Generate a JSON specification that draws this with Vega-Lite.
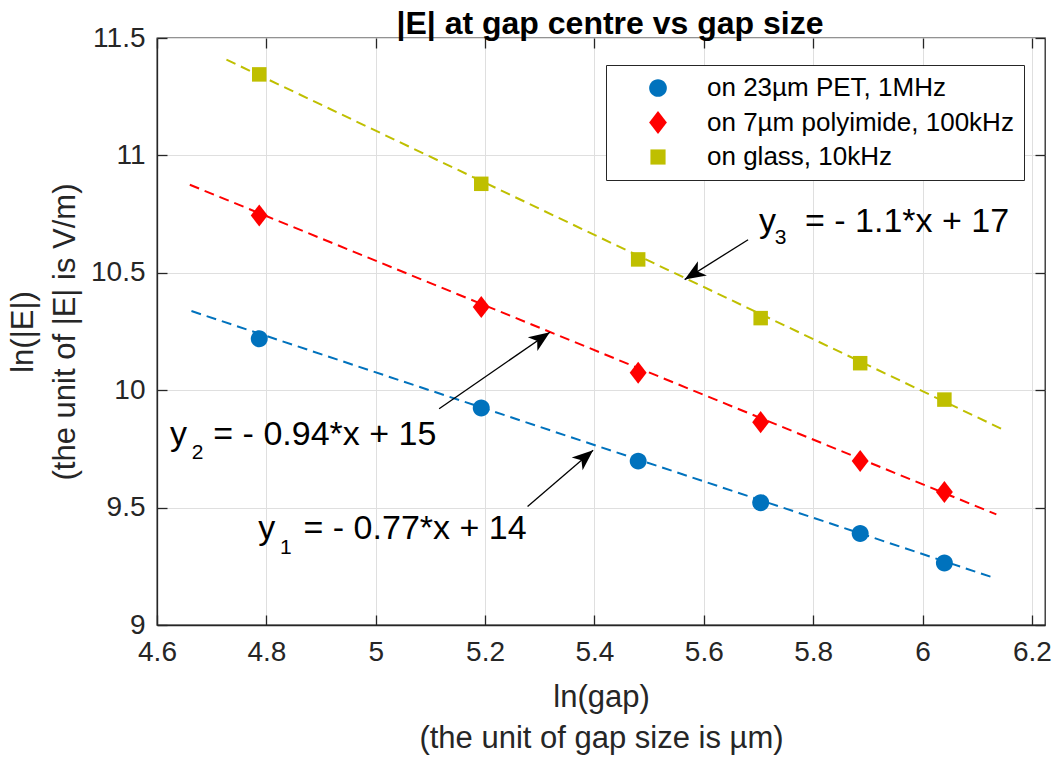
{
  "$schema": "https://vega.github.io/schema/vega-lite/v6.json",
  "width": 888,
  "height": 587,
  "autosize": {"type": "none"},
  "padding": {"left": 157, "top": 38, "right": 10, "bottom": 133},
  "background": "white",
  "config": {
    "font": "Liberation Sans",
    "view": {"stroke": "#262626", "strokeWidth": 1.3},
    "axis": {
      "domainColor": "#262626", "domainWidth": 1.3,
      "tickColor": "#262626", "tickWidth": 1.3, "tickSize": -10,
      "gridColor": "#dfdfdf", "gridWidth": 1,
      "labelColor": "#262626", "labelFont": "Liberation Sans", "labelFontSize": 28,
      "titleColor": "#262626", "titleFont": "Liberation Sans", "titleFontSize": 31, "titleFontWeight": "normal",
      "labelFlush": false, "labelOverlap": false
    },
    "legend": {
      "orient": "none", "legendX": 449, "legendY": 27,
      "labelFontSize": 26, "labelFont": "Liberation Sans", "labelColor": "#000000", "labelLimit": 0,
      "symbolSize": 230, "symbolOffset": 29, "labelOffset": 36, "padding": 10, "rowPadding": 8.5,
      "strokeColor": "#262626", "fillColor": "white", "symbolStrokeWidth": 0
    }
  },
  "title": {"text": "|E| at gap centre vs gap size", "fontSize": 32, "fontWeight": "bold", "font": "Liberation Sans", "color": "#000000", "anchor": "middle", "baseline": "alphabetic", "offset": 5, "dx": 9, "dy": 47},
  "datasets": {
    "pts": [
      {"series": "on 23µm PET, 1MHz", "lngap": 4.787, "lnE": 10.219},
      {"series": "on 23µm PET, 1MHz", "lngap": 5.193, "lnE": 9.924},
      {"series": "on 23µm PET, 1MHz", "lngap": 5.48, "lnE": 9.698},
      {"series": "on 23µm PET, 1MHz", "lngap": 5.704, "lnE": 9.521},
      {"series": "on 23µm PET, 1MHz", "lngap": 5.886, "lnE": 9.39},
      {"series": "on 23µm PET, 1MHz", "lngap": 6.04, "lnE": 9.264},
      {"series": "on 7µm polyimide, 100kHz", "lngap": 4.787, "lnE": 10.744},
      {"series": "on 7µm polyimide, 100kHz", "lngap": 5.193, "lnE": 10.354},
      {"series": "on 7µm polyimide, 100kHz", "lngap": 5.48, "lnE": 10.074},
      {"series": "on 7µm polyimide, 100kHz", "lngap": 5.704, "lnE": 9.864},
      {"series": "on 7µm polyimide, 100kHz", "lngap": 5.886, "lnE": 9.698},
      {"series": "on 7µm polyimide, 100kHz", "lngap": 6.04, "lnE": 9.566},
      {"series": "on glass, 10kHz", "lngap": 4.787, "lnE": 11.345},
      {"series": "on glass, 10kHz", "lngap": 5.193, "lnE": 10.879},
      {"series": "on glass, 10kHz", "lngap": 5.48, "lnE": 10.557},
      {"series": "on glass, 10kHz", "lngap": 5.704, "lnE": 10.307},
      {"series": "on glass, 10kHz", "lngap": 5.886, "lnE": 10.115},
      {"series": "on glass, 10kHz", "lngap": 6.04, "lnE": 9.96}
    ],
    "fits": [
      {"series": "on 23µm PET, 1MHz", "lngap": 4.663, "lnE": 10.337},
      {"series": "on 23µm PET, 1MHz", "lngap": 6.128, "lnE": 9.203},
      {"series": "on 7µm polyimide, 100kHz", "lngap": 4.66, "lnE": 10.875},
      {"series": "on 7µm polyimide, 100kHz", "lngap": 6.135, "lnE": 9.471},
      {"series": "on glass, 10kHz", "lngap": 4.727, "lnE": 11.408},
      {"series": "on glass, 10kHz", "lngap": 6.144, "lnE": 9.836}
    ],
    "arrows": [
      {"id": "a1", "x": 5.2777, "y": 9.505, "hx": 5.3976, "hy": 9.744},
      {"id": "a2", "x": 5.116, "y": 9.921, "hx": 5.3185, "hy": 10.247},
      {"id": "a3", "x": 5.681, "y": 10.641, "hx": 5.565, "hy": 10.471}
    ],
    "eqmain": [
      {"x": 4.6238, "y": 9.765, "t": "y"},
      {"x": 4.703, "y": 9.765, "t": "= - 0.94*x + 15"},
      {"x": 4.7852, "y": 9.365, "t": "y"},
      {"x": 4.868, "y": 9.365, "t": "= - 0.77*x + 14"},
      {"x": 5.7009, "y": 10.672, "t": "y"},
      {"x": 5.785, "y": 10.672, "t": "= - 1.1*x + 17"}
    ],
    "eqsub": [
      {"x": 4.6634, "y": 9.708, "t": "2"},
      {"x": 4.8249, "y": 9.304, "t": "1"},
      {"x": 5.7298, "y": 10.624, "t": "3"}
    ]
  },
  "resolve": {"axis": {"x": "independent", "y": "independent"}},
  "layer": [
    {
      "data": {"name": "fits"},
      "mark": {"type": "line", "strokeWidth": 2, "strokeDash": [10, 6]},
      "encoding": {
        "x": {"field": "lngap", "type": "quantitative",
              "scale": {"domain": [4.6, 6.224], "nice": false, "zero": false},
              "axis": {"values": [4.6, 4.8, 5, 5.2, 5.4, 5.6, 5.8, 6, 6.2], "format": "~g", "grid": true, "labelPadding": 23,
                       "title": ["ln(gap)", "(the unit of gap size is µm)"], "titleX": 444, "titleY": 72, "titleBaseline": "middle", "titleLineHeight": 41, "titleAlign": "center"}},
        "y": {"field": "lnE", "type": "quantitative",
              "scale": {"domain": [9, 11.5], "nice": false, "zero": false},
              "axis": {"values": [9, 9.5, 10, 10.5, 11, 11.5], "format": "~g", "grid": true, "labelPadding": 22,
                       "title": ["ln(|E|)", "(the unit of |E| is V/m)"], "titleX": -134, "titleY": 293.5, "titleBaseline": "middle", "titleAngle": -90, "titleLineHeight": 42, "titleAlign": "center"}},
        "stroke": {"field": "series", "type": "nominal",
                  "scale": {"domain": ["on glass, 10kHz", "on 7µm polyimide, 100kHz", "on 23µm PET, 1MHz"], "range": ["#BFBF00", "#FF0000", "#0072BD"]},
                  "legend": null},
        "detail": {"field": "series"}
      }
    },
    {
      "data": {"name": "pts"},
      "mark": {"type": "point", "filled": true, "opacity": 1, "size": 210},
      "encoding": {
        "x": {"field": "lngap", "type": "quantitative", "axis": {"orient": "top", "labels": false, "grid": false, "domain": false, "title": null, "values": [4.6, 4.8, 5, 5.2, 5.4, 5.6, 5.8, 6, 6.2]}},
        "y": {"field": "lnE", "type": "quantitative", "axis": {"orient": "right", "labels": false, "grid": false, "domain": false, "title": null, "values": [9, 9.5, 10, 10.5, 11, 11.5]}},
        "color": {"field": "series", "type": "nominal",
                  "scale": {"domain": ["on 23µm PET, 1MHz", "on 7µm polyimide, 100kHz", "on glass, 10kHz"], "range": ["#0072BD", "#FF0000", "#BFBF00"]},
                  "legend": {"title": null}},
        "shape": {"field": "series", "type": "nominal",
                  "scale": {"domain": ["on 23µm PET, 1MHz", "on 7µm polyimide, 100kHz", "on glass, 10kHz"], "range": ["M-1.17,0A1.17,1.17,0,1,1,1.17,0A1.17,1.17,0,1,1,-1.17,0Z", "M0,-1.52L1.17,0L0,1.52L-1.17,0Z", "square"]},
                  "legend": {"title": null}}
      }
    },
    {
      "data": {"name": "arrows"},
      "mark": {"type": "rule", "color": "#000000", "strokeWidth": 1.3},
      "encoding": {
        "x": {"field": "x", "type": "quantitative", "axis": null},
        "y": {"field": "y", "type": "quantitative", "axis": null},
        "x2": {"field": "hx"},
        "y2": {"field": "hy"}
      }
    },
    {
      "data": {"name": "arrows"},
      "transform": [{"filter": "datum.id === 'a1'"}],
      "mark": {"type": "point", "filled": true, "opacity": 1, "color": "#000000", "size": 196, "shape": "M0,0L-1.2,3L0,2.2L1.2,3Z", "angle": 49.5},
      "encoding": {
        "x": {"field": "hx", "type": "quantitative", "axis": null},
        "y": {"field": "hy", "type": "quantitative", "axis": null}
      }
    },
    {
      "data": {"name": "arrows"},
      "transform": [{"filter": "datum.id === 'a2'"}],
      "mark": {"type": "point", "filled": true, "opacity": 1, "color": "#000000", "size": 196, "shape": "M0,0L-1.2,3L0,2.2L1.2,3Z", "angle": 55.3},
      "encoding": {
        "x": {"field": "hx", "type": "quantitative", "axis": null},
        "y": {"field": "hy", "type": "quantitative", "axis": null}
      }
    },
    {
      "data": {"name": "arrows"},
      "transform": [{"filter": "datum.id === 'a3'"}],
      "mark": {"type": "point", "filled": true, "opacity": 1, "color": "#000000", "size": 196, "shape": "M0,0L-1.2,3L0,2.2L1.2,3Z", "angle": 237.7},
      "encoding": {
        "x": {"field": "hx", "type": "quantitative", "axis": null},
        "y": {"field": "hy", "type": "quantitative", "axis": null}
      }
    },
    {
      "data": {"name": "eqmain"},
      "mark": {"type": "text", "align": "left", "baseline": "alphabetic", "fontSize": 34, "font": "Liberation Sans", "color": "#000000"},
      "encoding": {
        "x": {"field": "x", "type": "quantitative", "axis": null},
        "y": {"field": "y", "type": "quantitative", "axis": null},
        "text": {"field": "t"}
      }
    },
    {
      "data": {"name": "eqsub"},
      "mark": {"type": "text", "align": "left", "baseline": "alphabetic", "fontSize": 21, "font": "Liberation Sans", "color": "#000000"},
      "encoding": {
        "x": {"field": "x", "type": "quantitative", "axis": null},
        "y": {"field": "y", "type": "quantitative", "axis": null},
        "text": {"field": "t"}
      }
    }
  ]
}
